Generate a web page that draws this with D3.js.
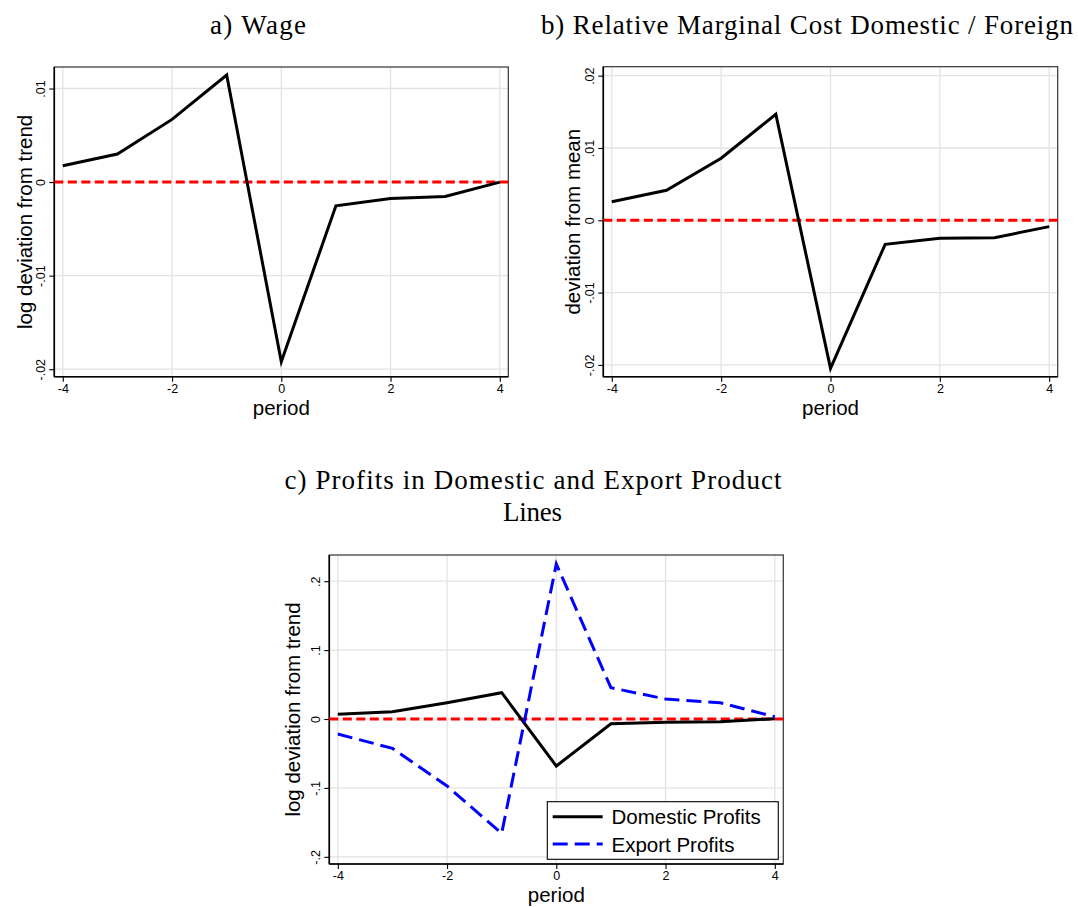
<!DOCTYPE html>
<html>
<head>
<meta charset="utf-8">
<script src="https://cdn.jsdelivr.net/npm/d3@7"></script>
<style>
  body { margin: 0; background: #fff; }
  svg { display: block; }
  .axis-title { font-family: "Liberation Sans", Arial, sans-serif; font-size: 20.5px; fill: #000; }
  .panel-title { font-family: "Liberation Serif", "Times New Roman", serif; font-size: 27px; fill: #000; }
  .legend-text { font-family: "Liberation Sans", Arial, sans-serif; font-size: 20.5px; fill: #000; }
</style>
</head>
<body>
<script>
// periods on the x axis
var periods = [-4, -3, -2, -1, 0, 1, 2, 3, 4];

// a) wage, log deviation from trend
var wage = [0.00174, 0.0030, 0.0067, 0.01144, -0.0192, -0.00253, -0.00175, -0.00153, 0.0];
// b) relative marginal cost domestic / foreign, deviation from mean
var relCost = [0.00257, 0.00415, 0.00858, 0.01466, -0.02047, -0.00332, -0.00249, -0.0024, -0.00088];
// c) profits in domestic and export product lines
var domesticProfits = [0.0068, 0.0106, 0.0237, 0.0382, -0.0682, -0.0068, -0.0048, -0.0039, 0.0004];
var exportProfits = [-0.0218, -0.0426, -0.0972, -0.166, 0.225, 0.0454, 0.029, 0.0237, 0.0033];

// tick labels
var xTicks = [-4, -2, 0, 2, 4];
var yTicksA = [-0.02, -0.01, 0, 0.01];
var yTicksB = [-0.02, -0.01, 0, 0.01, 0.02];
var yTicksC = [-0.2, -0.1, 0, 0.1, 0.2];

var legendLabels = ["Domestic Profits", "Export Profits"];

var svgWidth = 1078;
var svgHeight = 907;

var svg = d3.select("body")
  .append("svg")
  .attr("width", svgWidth)
  .attr("height", svgHeight);

// stata style labels: .01, -.1, 0
function stataFmt(d) {
  if (d === 0) return "0";
  return String(d).replace("0.", ".");
}

// draw one panel, box = frame of the plot region
function drawPanel(opt) {
  var box = opt.box;
  var pad = 8.5;

  var x = d3.scaleLinear()
    .domain([-4, 4])
    .range([box.left + pad, box.right - pad]);

  var y = d3.scaleLinear()
    .domain(opt.yDomain)
    .range([box.bottom, box.top]);

  var g = svg.append("g");

  // grid lines
  g.selectAll(".gx")
    .data(xTicks)
    .enter()
    .append("line")
    .attr("x1", d => x(d)).attr("x2", d => x(d))
    .attr("y1", box.top).attr("y2", box.bottom)
    .attr("stroke", "#e3e3e3")
    .attr("stroke-width", 1.3);

  g.selectAll(".gy")
    .data(opt.yTicks)
    .enter()
    .append("line")
    .attr("x1", box.left).attr("x2", box.right)
    .attr("y1", d => y(d)).attr("y2", d => y(d))
    .attr("stroke", "#e3e3e3")
    .attr("stroke-width", 1.3);

  // frame
  g.append("rect")
    .attr("x", box.left).attr("y", box.top)
    .attr("width", box.right - box.left)
    .attr("height", box.bottom - box.top)
    .attr("fill", "none")
    .attr("stroke", "#333")
    .attr("stroke-width", 1.2);

  // axes
  var bottomAxis = d3.axisBottom(x).tickValues(xTicks).tickSize(5).tickPadding(2).tickFormat(d => d);
  var leftAxis = d3.axisLeft(y).tickValues(opt.yTicks).tickSize(5).tickFormat(stataFmt);

  var gx = g.append("g")
    .attr("transform", `translate(0, ${box.bottom})`)
    .call(bottomAxis);
  gx.attr("font-size", 12.5).attr("font-family", "Liberation Sans, Arial, sans-serif");
  gx.select(".domain").attr("d", `M${box.left},0H${box.right}`).attr("stroke", "#000").attr("stroke-width", 1.6);
  gx.selectAll(".tick line").attr("stroke", "#000").attr("stroke-width", 1.1);

  var gy = g.append("g")
    .attr("transform", `translate(${box.left}, 0)`)
    .call(leftAxis);
  gy.attr("font-size", 12.5).attr("font-family", "Liberation Sans, Arial, sans-serif");
  gy.select(".domain").attr("d", `M0,${box.top}V${box.bottom}`).attr("stroke", "#000").attr("stroke-width", 1.6);
  gy.selectAll(".tick line").attr("stroke", "#000").attr("stroke-width", 1.1);
  // y labels are turned up like stata does
  gy.selectAll(".tick text")
    .attr("x", null).attr("dy", null)
    .attr("text-anchor", "middle")
    .attr("transform", "translate(-9.5,0) rotate(-90)");

  // zero reference line
  g.append("line")
    .attr("x1", box.left).attr("x2", box.right)
    .attr("y1", y(0)).attr("y2", y(0))
    .attr("stroke", "#ff0000")
    .attr("stroke-width", 3)
    .attr("stroke-dasharray", "9,4.5");

  var line = d3.line()
    .x((d, i) => x(periods[i]))
    .y(d => y(d));

  opt.series.forEach(function(s) {
    g.append("path")
      .datum(s.values)
      .attr("d", line)
      .attr("fill", "none")
      .attr("stroke", s.color)
      .attr("stroke-width", 3)
      .attr("stroke-linejoin", "miter")
      .attr("stroke-dasharray", s.dash || null);
  });

  // axis titles
  g.append("text")
    .attr("class", "axis-title")
    .attr("text-anchor", "middle")
    .attr("x", (box.left + box.right) / 2)
    .attr("y", box.bottom + 38)
    .text("period");

  g.append("text")
    .attr("class", "axis-title")
    .attr("text-anchor", "middle")
    .attr("transform", `translate(${opt.yTitleX}, ${(box.top + box.bottom) / 2}) rotate(-90)`)
    .text(opt.yTitle);

  return { x: x, y: y, g: g };
}

drawPanel({
  box: { left: 54.3, right: 508.3, top: 67, bottom: 376.7 },
  yDomain: [-0.0208, 0.0123],
  yTicks: yTicksA,
  yTitle: "log deviation from trend",
  yTitleX: 32,
  series: [{ values: wage, color: "#000" }]
});

drawPanel({
  box: { left: 603.3, right: 1057.7, top: 66.7, bottom: 376.7 },
  yDomain: [-0.02163, 0.02124],
  yTicks: yTicksB,
  yTitle: "deviation from mean",
  yTitleX: 580,
  series: [{ values: relCost, color: "#000" }]
});

var pc = drawPanel({
  box: { left: 329.3, right: 783.3, top: 555, bottom: 864 },
  yDomain: [-0.2104, 0.238],
  yTicks: yTicksC,
  yTitle: "log deviation from trend",
  yTitleX: 300,
  series: [
    { values: domesticProfits, color: "#000" },
    { values: exportProfits, color: "#0000ff", dash: "15,7" }
  ]
});

// legend for panel c
var legend = pc.g.append("g");
legend.append("rect")
  .attr("x", 547.3).attr("y", 801.7)
  .attr("width", 231).attr("height", 57.6)
  .attr("fill", "#fff")
  .attr("stroke", "#000")
  .attr("stroke-width", 1.1);

var legendStyles = [{ color: "#000", dash: null }, { color: "#0000ff", dash: "15,7" }];
legendLabels.forEach(function(lab, i) {
  var ly = 816.7 + i * 27.3;
  legend.append("line")
    .attr("x1", 552.7).attr("x2", 602.7)
    .attr("y1", ly).attr("y2", ly)
    .attr("stroke", legendStyles[i].color)
    .attr("stroke-width", 3)
    .attr("stroke-dasharray", legendStyles[i].dash);
  legend.append("text")
    .attr("class", "legend-text")
    .attr("x", 611.5)
    .attr("y", ly + 7.5)
    .text(lab);
});

// panel titles
var titles = [
  { text: "a) Wage", x: 258, y: 34, w: 96 },
  { text: "b) Relative Marginal Cost Domestic / Foreign", x: 807, y: 34, w: 532 },
  { text: "c) Profits in Domestic and Export Product", x: 533, y: 489, w: 497 },
  { text: "Lines", x: 532.5, y: 521, w: 59 }
];
svg.selectAll(".panel-title")
  .data(titles)
  .enter()
  .append("text")
  .attr("class", "panel-title")
  .attr("text-anchor", "middle")
  .attr("x", d => d.x)
  .attr("y", d => d.y)
  .attr("textLength", d => d.w)
  .attr("lengthAdjust", "spacing")
  .text(d => d.text);
</script>
</body>
</html>
